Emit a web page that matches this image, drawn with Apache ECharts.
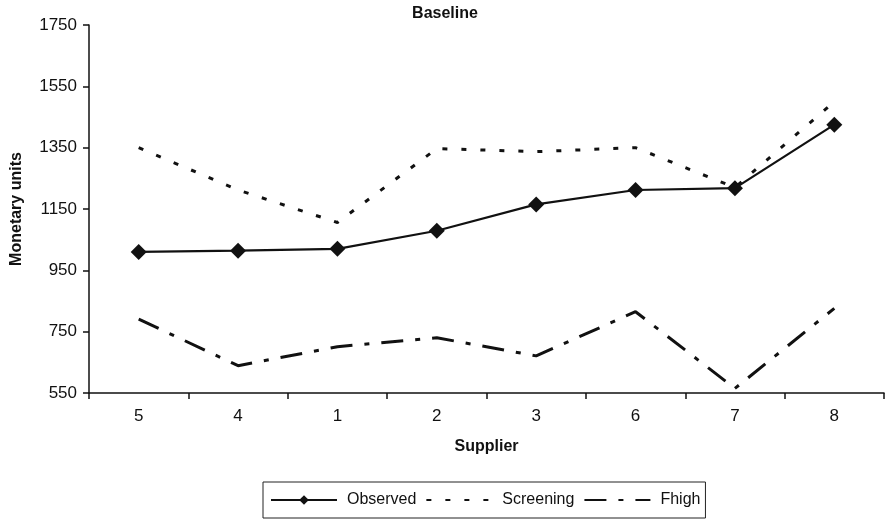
<!DOCTYPE html>
<html>
<head>
<meta charset="utf-8">
<script src="https://cdn.jsdelivr.net/npm/echarts@6/dist/echarts.min.js"></script>
<style>
  html, body { margin: 0; padding: 0; background: #fff; }
  #chart { width: 885px; height: 520px; }
</style>
</head>
<body>
<div id="chart"></div>
<script>
// Supplier order along the x axis
const suppliers = ['5', '4', '1', '2', '3', '6', '7', '8'];

// Monetary units per supplier
const observed  = [1010, 1014, 1020, 1079, 1165, 1212, 1218, 1425];
const screening = [1350, 1212, 1106, 1347, 1337, 1350, 1220, 1500];
const fhigh     = [791, 639, 701, 730, 671, 815, 565, 826];

// Value axis range and step
const yMin = 550;
const yMax = 1750;
const yStep = 200;

const FONT = '"Liberation Sans", Arial, Helvetica, sans-serif';
const INK = '#111';

const chart = echarts.init(document.getElementById('chart'), null, { renderer: 'canvas' });

chart.setOption({
  backgroundColor: '#fff',
  animation: false,
  textStyle: { fontFamily: FONT, color: INK },
  title: {
    text: 'Baseline',
    left: 440,
    top: 1,
    textAlign: 'center',
    textStyle: { fontFamily: FONT, fontSize: 16, fontWeight: 'bold', color: INK }
  },
  grid: {
    left: 89,
    right: 1,
    top: 25,
    bottom: 127,
    containLabel: false,
    outerBoundsMode: 'none'
  },
  legend: {
    left: 263,
    top: 482,
    orient: 'horizontal',
    padding: [10, 5, 10, 7],
    itemGap: 9,
    itemWidth: 66,
    itemHeight: 12,
    borderColor: '#222',
    borderWidth: 1,
    borderRadius: 0,
    textStyle: { fontFamily: FONT, fontSize: 16, color: INK, padding: [0, 0, 0, 5] },
    data: [
      { name: 'Observed' },
      { name: 'Screening', itemStyle: { opacity: 0 } },
      { name: 'Fhigh', itemStyle: { opacity: 0 } }
    ]
  },
  xAxis: {
    type: 'category',
    data: suppliers,
    boundaryGap: true,
    name: 'Supplier',
    nameLocation: 'middle',
    nameGap: 46,
    nameTextStyle: { fontFamily: FONT, fontSize: 16, fontWeight: 'bold', color: INK },
    axisLine: { lineStyle: { color: INK, width: 1.5 } },
    axisTick: { show: true, length: 6, alignWithLabel: false, lineStyle: { color: INK, width: 1.5 } },
    axisLabel: { margin: 15, fontFamily: FONT, fontSize: 17, color: INK },
    splitLine: { show: false }
  },
  yAxis: {
    type: 'value',
    min: yMin,
    max: yMax,
    interval: yStep,
    name: 'Monetary units',
    nameLocation: 'middle',
    nameRotate: 90,
    nameGap: 64,
    nameTextStyle: { fontFamily: FONT, fontSize: 16, fontWeight: 'bold', color: INK },
    axisLine: { show: true, lineStyle: { color: INK, width: 1.5 } },
    axisTick: { show: true, length: 6, lineStyle: { color: INK, width: 1.5 } },
    axisLabel: {
      margin: 12,
      fontFamily: FONT,
      fontSize: 17,
      color: INK,
      formatter: (v) => String(v)
    },
    splitLine: { show: false }
  },
  series: [
    {
      name: 'Observed',
      type: 'line',
      data: observed,
      symbol: 'diamond',
      symbolSize: 16,
      showSymbol: true,
      itemStyle: { color: INK },
      lineStyle: { color: INK, width: 2.2, type: 'solid' },
      z: 5
    },
    {
      name: 'Screening',
      type: 'line',
      data: screening,
      symbol: 'none',
      itemStyle: { color: INK },
      lineStyle: { color: INK, width: 3, type: [5, 14], cap: 'butt' },
      z: 3
    },
    {
      name: 'Fhigh',
      type: 'line',
      data: fhigh,
      symbol: 'none',
      itemStyle: { color: INK },
      lineStyle: { color: INK, width: 3, type: [22, 12, 5, 12], cap: 'butt' },
      z: 3
    }
  ]
});
</script>
</body>
</html>
